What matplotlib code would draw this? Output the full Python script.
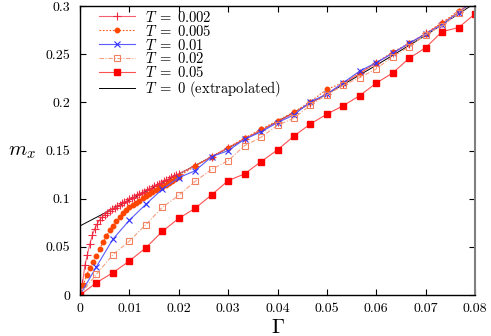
import numpy as np
import matplotlib
matplotlib.use("Agg")
import matplotlib.pyplot as plt

plt.rcParams['font.family'] = ['cmr10', 'DejaVu Serif']
plt.rcParams['mathtext.fontset'] = 'cm'
plt.rcParams['axes.formatter.use_mathtext'] = True

# Coarse grid (Gamma = k/300)
g_coarse = [0, 0.00333, 0.00667, 0.01, 0.01333, 0.01667, 0.02, 0.02333, 0.02667, 0.03,
            0.03333, 0.03667, 0.04, 0.04333, 0.04667, 0.05, 0.05333, 0.05667, 0.06,
            0.06333, 0.06667, 0.07, 0.07333, 0.07667, 0.08]

# T = 0.05
m_T005c = [0, 0.0128, 0.0232, 0.0353, 0.049, 0.066, 0.0796, 0.090, 0.104, 0.1187,
           0.1257, 0.1385, 0.1506, 0.165, 0.1776, 0.1877, 0.1966, 0.207, 0.220,
           0.2305, 0.2458, 0.2567, 0.2734, 0.2776, 0.2918]

# T = 0.02
m_T002c = [0, 0.0215, 0.0419, 0.056, 0.073, 0.091, 0.1035, 0.118, 0.1305, 0.1395,
           0.155, 0.1637, 0.1762, 0.1835, 0.1973, 0.2077, 0.2177, 0.2257, 0.2347,
           0.2475, 0.2575, 0.2703, 0.2793, 0.2925, 0.305]

# T = 0.01
m_T001 = [0, 0.0294, 0.058, 0.0776, 0.0942, 0.1098, 0.1218, 0.129, 0.1436, 0.1498,
          0.1617, 0.1693, 0.179, 0.1869, 0.2007, 0.2084, 0.2204, 0.2326, 0.2412,
          0.251, 0.2614, 0.271, 0.2804, 0.2932, 0.306]

# T = 0.005 : dense part then coarse part
g_T0005 = [0, 0.00067, 0.00133, 0.002, 0.00267, 0.00333, 0.004, 0.00467, 0.00533, 0.006,
           0.00667, 0.00733, 0.008, 0.00867, 0.00933, 0.01, 0.01067, 0.01133, 0.012,
           0.01267, 0.01333, 0.014, 0.01467, 0.01533, 0.016, 0.01667, 0.01733, 0.018,
           0.01867, 0.01933, 0.02,
           0.02333, 0.02667, 0.03, 0.03333, 0.03667, 0.04, 0.04333, 0.04667, 0.05,
           0.05333, 0.05667, 0.06, 0.06333, 0.06667, 0.07, 0.07333, 0.07667, 0.08]
m_T0005 = [0, 0.010, 0.021, 0.028, 0.034, 0.040, 0.048, 0.055, 0.061, 0.067,
           0.072, 0.077, 0.081, 0.085, 0.088, 0.091, 0.0935, 0.096, 0.098,
           0.1005, 0.103, 0.105, 0.107, 0.109, 0.111, 0.1125, 0.114, 0.116,
           0.118, 0.1205, 0.123,
           0.134, 0.1436, 0.153, 0.163, 0.172, 0.181, 0.190, 0.2007, 0.2135,
           0.2204, 0.2309, 0.2412, 0.2522, 0.2614, 0.2714, 0.2828, 0.2949, 0.307]

# T = 0.002 : dense part then coarse part
g_T0002 = [0, 0.0005, 0.001, 0.0015, 0.002, 0.0025, 0.003, 0.0035, 0.004, 0.0045,
           0.005, 0.0055, 0.006, 0.0065, 0.007, 0.0075, 0.008, 0.0085, 0.009, 0.0095,
           0.01, 0.0105, 0.011, 0.0115, 0.012, 0.0125, 0.013, 0.0135, 0.014, 0.0145,
           0.015, 0.0155, 0.016, 0.0165, 0.017, 0.0175, 0.018, 0.0185, 0.019, 0.0195,
           0.02,
           0.02333, 0.02667, 0.03, 0.03333, 0.03667, 0.04, 0.04333, 0.04667, 0.05,
           0.05333, 0.05667, 0.06, 0.06333, 0.06667, 0.07, 0.07333, 0.07667, 0.08]
m_T0002 = [0, 0.012, 0.031, 0.042, 0.053, 0.062, 0.069, 0.074, 0.078, 0.081,
           0.0835, 0.0855, 0.0875, 0.089, 0.0905, 0.092, 0.0935, 0.095, 0.0965, 0.098,
           0.0993, 0.1005, 0.102, 0.1033, 0.1047, 0.106, 0.1073, 0.1087, 0.110, 0.1113,
           0.1127, 0.114, 0.1153, 0.1167, 0.118, 0.1193, 0.1207, 0.122, 0.1233, 0.1247,
           0.126,
           0.134, 0.1435, 0.153, 0.162, 0.171, 0.1795, 0.189, 0.199, 0.209,
           0.2195, 0.230, 0.241, 0.251, 0.261, 0.2715, 0.282, 0.2935, 0.306]

# T = 0 (extrapolated)
g_T0 = [0, 0.01, 0.02, 0.03, 0.04, 0.05, 0.06, 0.07, 0.08]
m_T0 = [0.0717, 0.0985, 0.1255, 0.1525, 0.180, 0.2085, 0.2385, 0.2695, 0.303]

xticks = [0, 0.01, 0.02, 0.03, 0.04, 0.05, 0.06, 0.07, 0.08]
xticklabels = ['0', '0.01', '0.02', '0.03', '0.04', '0.05', '0.06', '0.07', '0.08']
yticks = [0, 0.05, 0.1, 0.15, 0.2, 0.25, 0.3]
yticklabels = ['0', '0.05', '0.1', '0.15', '0.2', '0.25', '0.3']

fig = plt.figure(figsize=(4.91, 3.36), dpi=100)
ax = fig.add_axes([80/491, 1-295/336, 395/491, 289/336])

lw = 0.8
ax.plot(g_T0002, m_T0002, color='#f46070', lw=lw, marker='+', ms=6, mew=0.8,
        mec='#f02840', label=r'$T\;=\;0.002$')
ax.plot(g_T0005, m_T0005, color='#ff5a1a', lw=lw, ls=(0, (1.5, 1.5)), marker='o', ms=3.2,
        mec='#ff4500', mfc='#ff4500', label=r'$T\;=\;0.005$')
ax.plot(g_coarse, m_T001, color='#5a5aff', lw=lw, marker='x', ms=5, mew=0.8,
        mec='#3030ff', label=r'$T\;=\;0.01$')
ax.plot(g_coarse, m_T002c, color='#f7a080', lw=lw, ls=(0, (4, 1.5, 1, 1.5)), marker='s', ms=5,
        mfc='none', mec='#f08060', mew=0.8, label=r'$T\;=\;0.02$')
ax.plot(g_coarse, m_T005c, color='#ff5050', lw=lw, marker='s', ms=4.5,
        mfc='#ff0000', mec='#ff0000', label=r'$T\;=\;0.05$')
ax.plot(g_T0, m_T0, color='black', lw=0.7, label=r'$T\;=\;0$ (extrapolated)', zorder=1)

ax.set_xlim(0, 0.08)
ax.set_ylim(0, 0.3)
ax.set_xticks(xticks)
ax.set_xticklabels(xticklabels)
ax.set_yticks(yticks)
ax.set_yticklabels(yticklabels)
ax.tick_params(direction='in', top=True, right=True, length=4, width=0.8,
               labelsize=10, pad=7)
ax.tick_params(axis='x', pad=6)
for s in ['left', 'bottom', 'top']:
    ax.spines[s].set_linewidth(1.0)
ax.spines['right'].set_color('#808080')
ax.spines['right'].set_linewidth(1.5)

fig.text(22/491, 1-152/336, r'$m_x$', fontsize=15, ha='center', va='center')
fig.text(278/491, 1-333/336, r'$\Gamma$', fontsize=15, ha='center', va='baseline')

leg = ax.legend(loc='upper left', frameon=False, fontsize=10.5,
                bbox_to_anchor=(0.025, 1.018), handlelength=2.5, handletextpad=0.7,
                labelspacing=-0.07, borderaxespad=0.2)

fig.savefig('out.png', dpi=100)
